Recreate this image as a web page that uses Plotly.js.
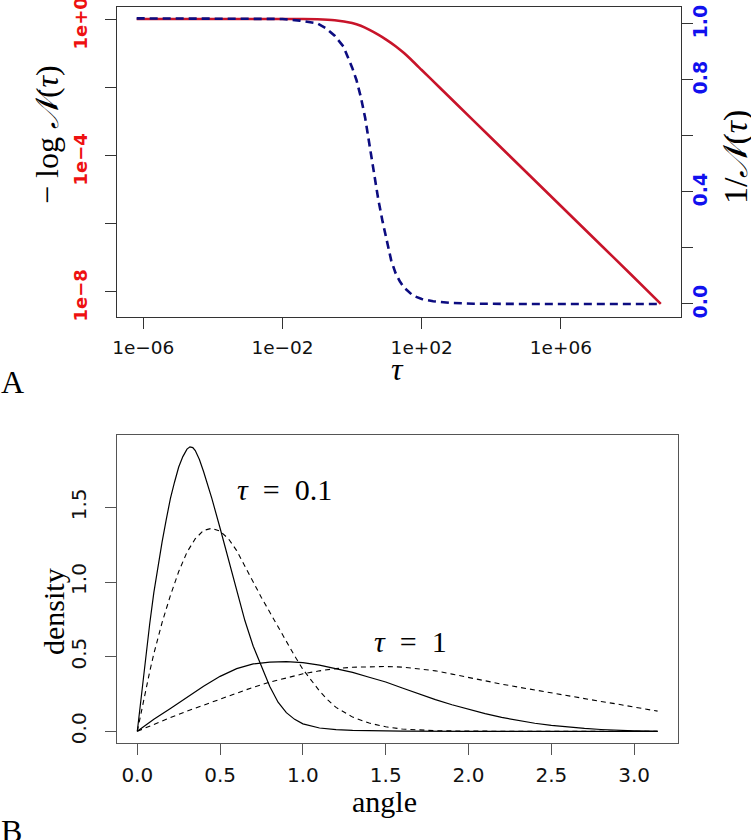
<!DOCTYPE html>
<html>
<head>
<meta charset="utf-8">
<script src="https://cdn.plot.ly/plotly-3.0.1.min.js"></script>
<style>html,body{margin:0;padding:0;background:#fff;}#plot{width:751px;height:840px;}</style>
</head>
<body>
<div id="plot"></div>
<script>
// ---------- Panel A data ----------
// log10(tau) sample positions and log10 / linear values
const redLogTau = [-6.19,-4,-3,-2,-1.5,-1,-0.5,0,0.25,0.5,0.75,1.0,1.25,1.5,1.75,2.0,2.5,3,4,5,6,7,8,8.87];
const redLogVal = [0,0,0,0,-0.002,-0.006,-0.035,-0.12,-0.2,-0.32,-0.46,-0.62,-0.8,-1.01,-1.25,-1.5,-2.0,-2.5,-3.5,-4.5,-5.5,-6.5,-7.5,-8.38];
const blueLogTau = [-6.19,-3,-2,-1.5,-1.0,-0.75,-0.5,-0.25,0,0.125,0.25,0.375,0.5,0.625,0.75,0.875,1.0,1.125,1.25,1.375,1.5,1.75,2.0,2.33,2.81,3.5,5,8.87];
const blueVal = [1.02,1.02,1.018,1.012,1.002,0.985,0.958,0.92,0.845,0.80,0.74,0.665,0.57,0.465,0.375,0.295,0.22,0.155,0.11,0.08,0.058,0.03,0.018,0.01,0.004,0.001,0,0];
const xTickValsA = [1e-6,1e-2,1e2,1e6];
const xTickTextA = ["1e\u221206","1e\u221202","1e+02","1e+06"];
const yTickValsA = [1,1e-2,1e-4,1e-6,1e-8];
const yTickTextA = ["1e+0","","1e\u22124","","1e\u22128"];
const y2TickValsA = [0,0.2,0.4,0.6,0.8,1.0];
const y2LabelVals = [0,0.4,0.8,1.0];
const y2LabelText = ["0.0","0.4","0.8","1.0"];

// ---------- Panel B data ----------
const angS01 = [0,0.025,0.05,0.075,0.1,0.125,0.15,0.175,0.2,0.225,0.25,0.275,0.3,0.318,0.335,0.35,0.375,0.4,0.45,0.5,0.55,0.6,0.65,0.7,0.75,0.8,0.85,0.9,0.95,1.0,1.1,1.2,1.3,1.4,1.6,2.0,3.1416];
const denS01 = [0,0.25,0.50,0.72,0.93,1.11,1.27,1.42,1.56,1.67,1.77,1.84,1.89,1.905,1.90,1.88,1.82,1.74,1.56,1.36,1.15,0.94,0.74,0.57,0.43,0.30,0.195,0.125,0.08,0.05,0.022,0.011,0.006,0.003,0.001,0,0];
const angD01 = [0,0.025,0.05,0.075,0.1,0.15,0.2,0.25,0.3,0.35,0.4,0.45,0.5,0.55,0.6,0.65,0.7,0.75,0.8,0.85,0.9,0.95,1.0,1.05,1.1,1.15,1.2,1.3,1.4,1.5,1.6,1.8,2.0,2.5,3.1416];
const denD01 = [0,0.14,0.28,0.40,0.52,0.73,0.91,1.07,1.20,1.29,1.345,1.36,1.34,1.29,1.21,1.11,1.0,0.895,0.795,0.70,0.60,0.505,0.415,0.34,0.27,0.21,0.16,0.095,0.055,0.03,0.015,0.004,0.001,0,0];
const angS1 = [0,0.1,0.2,0.3,0.4,0.5,0.6,0.7,0.8,0.9,1.0,1.1,1.2,1.3,1.4,1.5,1.6,1.7,1.8,1.9,2.0,2.1,2.2,2.3,2.4,2.5,2.6,2.7,2.8,2.9,3.0,3.1416];
const denS1 = [0,0.08,0.153,0.23,0.302,0.368,0.42,0.451,0.463,0.466,0.46,0.443,0.42,0.395,0.362,0.33,0.29,0.25,0.212,0.178,0.146,0.118,0.093,0.072,0.054,0.04,0.028,0.019,0.012,0.007,0.003,0];
const angD1 = [0,0.1,0.2,0.3,0.4,0.5,0.6,0.7,0.8,0.9,1.0,1.1,1.2,1.3,1.4,1.5,1.6,1.7,1.8,1.9,2.0,2.1,2.2,2.3,2.4,2.5,2.6,2.7,2.8,2.9,3.0,3.1416];
const denD1 = [0,0.047,0.092,0.135,0.174,0.215,0.257,0.295,0.329,0.358,0.385,0.405,0.42,0.429,0.433,0.434,0.43,0.42,0.405,0.383,0.36,0.338,0.316,0.296,0.276,0.257,0.238,0.219,0.2,0.182,0.164,0.135];
const xTickValsB = [0,0.5,1.0,1.5,2.0,2.5,3.0];
const xTickTextB = ["0.0","0.5","1.0","1.5","2.0","2.5","3.0"];
const yTickValsB = [0,0.5,1.0,1.5];
const yTickTextB = ["0.0","0.5","1.0","1.5"];

// ---------- helpers ----------
const W = 751, H = 840;
const px = x => x / W;
const py = y => 1 - y / H;
const pow10 = a => a.map(v => Math.pow(10, v));

const traces = [
  {x: pow10(redLogTau), y: pow10(redLogVal), xaxis:'x', yaxis:'y', mode:'lines',
   line:{color:'#c8142a', width:2.6, shape:'spline', smoothing:0.6}, hoverinfo:'skip'},
  {x: pow10(blueLogTau), y: blueVal, xaxis:'x', yaxis:'y2', mode:'lines',
   line:{color:'#0c0c80', width:2.6, dash:'8px,5px'}, hoverinfo:'skip'},
  {x: angS01, y: denS01, xaxis:'x3', yaxis:'y3', mode:'lines', line:{color:'#000', width:1.2}, hoverinfo:'skip'},
  {x: angD01, y: denD01, xaxis:'x3', yaxis:'y3', mode:'lines', line:{color:'#000', width:1.1, dash:'5px,4px'}, hoverinfo:'skip'},
  {x: angS1, y: denS1, xaxis:'x3', yaxis:'y3', mode:'lines', line:{color:'#000', width:1.2}, hoverinfo:'skip'},
  {x: angD1, y: denD1, xaxis:'x3', yaxis:'y3', mode:'lines', line:{color:'#000', width:1.1, dash:'5px,4px'}, hoverinfo:'skip'}
];

const sans = 'DejaVu Sans, sans-serif';
const serif = 'Liberation Serif, Times New Roman, serif';
const EN = '\u2002';

const baseAx = {showgrid:false, zeroline:false, ticks:'outside', ticklen:11, tickwidth:1, fixedrange:true, ticklabeloverflow:'allow'};

const annotations = [
  {text:'A', x:px(12), y:py(382), xref:'paper', yref:'paper', showarrow:false, xanchor:'center', yanchor:'middle', font:{family:serif, size:32, color:'#000'}},
  {text:'B', x:px(11), y:py(831), xref:'paper', yref:'paper', showarrow:false, xanchor:'center', yanchor:'middle', font:{family:serif, size:32, color:'#000'}},
  {text:'\u2212 log <i>\u{1D4A9}</i>(<i>\u03C4</i>)', x:px(47), y:py(135), xref:'paper', yref:'paper', showarrow:false, textangle:-90, xanchor:'center', yanchor:'middle', font:{family:serif, size:32, color:'#000'}},
  {text:'1/<i>\u{1D4A9}</i>(<i>\u03C4</i>)', x:px(736), y:py(157), xref:'paper', yref:'paper', showarrow:false, textangle:-90, xanchor:'center', yanchor:'middle', font:{family:serif, size:34, color:'#000'}},
  {text:'<i>\u03C4</i>', x:px(397), y:py(369), xref:'paper', yref:'paper', showarrow:false, xanchor:'center', yanchor:'middle', font:{family:serif, size:32, color:'#000'}},
  {text:'density', x:px(53), y:py(612), xref:'paper', yref:'paper', showarrow:false, textangle:-90, xanchor:'center', yanchor:'middle', font:{family:serif, size:30, color:'#000'}},
  {text:'angle', x:px(384), y:py(801), xref:'paper', yref:'paper', showarrow:false, xanchor:'center', yanchor:'middle', font:{family:serif, size:30, color:'#000'}},
  {text:'<i>\u03C4</i>' + EN + '=' + EN + '0.1', x:px(284), y:py(489), xref:'paper', yref:'paper', showarrow:false, xanchor:'center', yanchor:'middle', font:{family:serif, size:30, color:'#000'}},
  {text:'<i>\u03C4</i>' + EN + '=' + EN + '1', x:px(410), y:py(641), xref:'paper', yref:'paper', showarrow:false, xanchor:'center', yanchor:'middle', font:{family:serif, size:30, color:'#000'}}
];
// right-axis tick labels, placed on the y2 scale
y2LabelVals.forEach((v, i) => annotations.push({
  text: y2LabelText[i], x: px(700), y: v, xref:'paper', yref:'y2', yshift: 2.5,
  showarrow:false, textangle:-90, xanchor:'center', yanchor:'middle',
  font:{family:sans, size:19, color:'#1111ee', weight:'bold'}
}));

const layout = {
  width: W, height: H,
  margin:{l:0,r:0,t:0,b:0},
  paper_bgcolor:'#fff', plot_bgcolor:'#fff',
  showlegend:false,
  xaxis: Object.assign({}, baseAx, {
    type:'log', domain:[px(116.7), px(681)], range:[-6.764, 9.451], anchor:'y',
    tickmode:'array', tickvals:xTickValsA, ticktext:xTickTextA,
    tickcolor:'#333', showline:true, mirror:true, linecolor:'#333', linewidth:1.2,
    tickfont:{family:sans, size:18.5, color:'#111'}, ticklabelstandoff:3
  }),
  yaxis: Object.assign({}, baseAx, {
    type:'log', domain:[py(316.7), py(7.3)], range:[-8.756, 0.344], anchor:'x',
    tickmode:'array', tickvals:yTickValsA, ticktext:yTickTextA, tickangle:-90,
    tickcolor:'#333', showline:true, mirror:true, linecolor:'#333', linewidth:1.2,
    tickfont:{family:sans, size:18, color:'#ee1111', weight:'bold'}, ticklabelstandoff:10, ticklabelshift:7
  }),
  yaxis2: Object.assign({}, baseAx, {
    overlaying:'y', side:'right', anchor:'x', range:[-0.0454, 1.0596],
    tickmode:'array', tickvals:y2TickValsA, showticklabels:false,
    tickcolor:'#333', showline:false
  }),
  xaxis3: Object.assign({}, baseAx, {
    domain:[px(116.7), px(677.7)], range:[-0.1244, 3.263], anchor:'y3',
    tickmode:'array', tickvals:xTickValsB, ticktext:xTickTextB,
    tickcolor:'#555', showline:true, mirror:true, linecolor:'#555', linewidth:1.2,
    tickfont:{family:sans, size:20, color:'#111'}, ticklabelstandoff:3
  }),
  yaxis3: Object.assign({}, baseAx, {
    domain:[py(742.7), py(435)], range:[-0.0764, 1.9846], anchor:'x3',
    tickmode:'array', tickvals:yTickValsB, ticktext:yTickTextB, tickangle:-90,
    tickcolor:'#555', showline:true, mirror:true, linecolor:'#555', linewidth:1.2,
    tickfont:{family:sans, size:20, color:'#111'}, ticklabelstandoff:11
  }),
  annotations: annotations
};

Plotly.newPlot('plot', traces, layout, {displayModeBar:false, staticPlot:true});
</script>
</body>
</html>
